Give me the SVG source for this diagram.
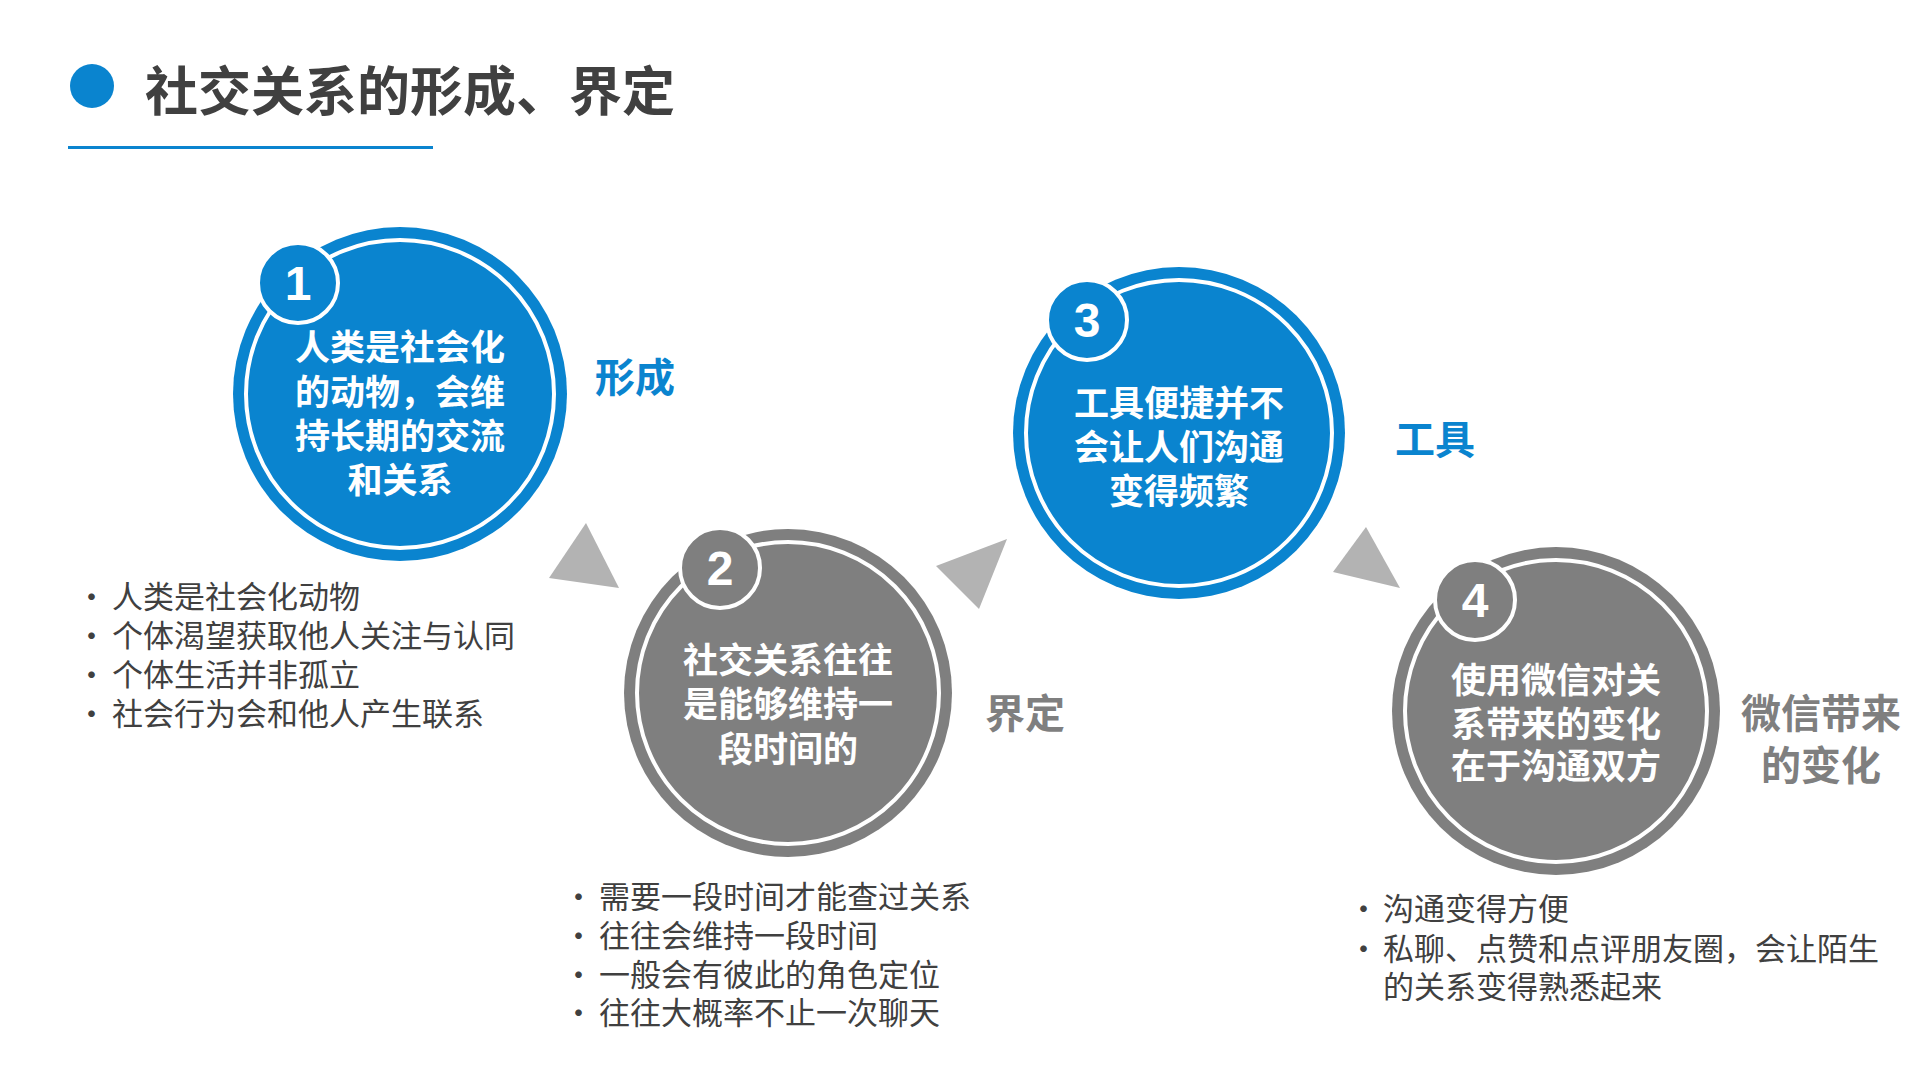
<svg xmlns="http://www.w3.org/2000/svg" width="1920" height="1080" viewBox="0 0 1920 1080">
<style>
text{font-family:"Noto Sans CJK SC","Liberation Sans",sans-serif;dominant-baseline:central}
.ct{fill:#fff;font-size:35px;font-weight:bold;text-anchor:middle}
.bn{fill:#fff;font-size:48px;font-weight:bold;text-anchor:middle;font-family:"Liberation Sans",sans-serif}
.lb{font-size:40px;font-weight:bold;text-anchor:middle}
.bl{fill:#404040;font-size:31px}
.blue{fill:#0a84cf}.gray{fill:#7f7f7f}
.tri{fill:#b3b3b3}
</style>
<rect width="1920" height="1080" fill="#fff"/>
<g id="title">
<circle cx="92" cy="86" r="22" class="blue"/>
<text x="145" y="88" font-size="53" font-weight="bold" fill="#404040">社交关系的形成、界定</text>
<rect x="68" y="146" width="365" height="3" class="blue"/>
</g>
<g id="connectors">
<polygon class="tri" points="586,523 549,578 619,588"/>
<polygon class="tri" points="1007,539 936,566 979,609"/>
<polygon class="tri" points="1366,527 1333,572 1400,588"/>
</g>
<g id="node1">
<circle cx="400" cy="394" r="167" class="blue"/>
<circle cx="400" cy="394" r="154" fill="none" stroke="#fff" stroke-width="4"/>
<circle cx="298" cy="283" r="40" class="blue" stroke="#fff" stroke-width="4"/>
<text x="298" y="283" class="bn">1</text>
<text x="400" y="344" class="ct">人类是社会化</text>
<text x="400" y="389" class="ct">的动物，会维</text>
<text x="400" y="433" class="ct">持长期的交流</text>
<text x="400" y="477" class="ct">和关系</text>
<text x="635" y="375" class="lb blue">形成</text>
</g>
<g id="node2">
<circle cx="788" cy="693" r="164" class="gray"/>
<circle cx="788" cy="693" r="151" fill="none" stroke="#fff" stroke-width="4"/>
<circle cx="720" cy="568" r="40" class="gray" stroke="#fff" stroke-width="4"/>
<text x="720" y="568" class="bn">2</text>
<text x="788" y="657" class="ct">社交关系往往</text>
<text x="788" y="701" class="ct">是能够维持一</text>
<text x="788" y="746" class="ct">段时间的</text>
<text x="1025" y="711" class="lb gray">界定</text>
</g>
<g id="node3">
<circle cx="1179" cy="433" r="166" class="blue"/>
<circle cx="1179" cy="433" r="153" fill="none" stroke="#fff" stroke-width="4"/>
<circle cx="1087" cy="320" r="40" class="blue" stroke="#fff" stroke-width="4"/>
<text x="1087" y="320" class="bn">3</text>
<text x="1179" y="400" class="ct">工具便捷并不</text>
<text x="1179" y="444" class="ct">会让人们沟通</text>
<text x="1179" y="488" class="ct">变得频繁</text>
<text x="1435" y="437" class="lb blue">工具</text>
</g>
<g id="node4">
<circle cx="1556" cy="711" r="164" class="gray"/>
<circle cx="1556" cy="711" r="151" fill="none" stroke="#fff" stroke-width="4"/>
<circle cx="1475" cy="600" r="40" class="gray" stroke="#fff" stroke-width="4"/>
<text x="1475" y="600" class="bn">4</text>
<text x="1556" y="677" class="ct">使用微信对关</text>
<text x="1556" y="721" class="ct">系带来的变化</text>
<text x="1556" y="763" class="ct">在于沟通双方</text>
<text x="1821" y="711" class="lb gray">微信带来</text>
<text x="1821" y="763" class="lb gray">的变化</text>
</g>
<g id="list1">
<text x="76" y="594" class="bl">•</text><text x="112" y="594" class="bl">人类是社会化动物</text>
<text x="76" y="633" class="bl">•</text><text x="112" y="633" class="bl">个体渴望获取他人关注与认同</text>
<text x="76" y="672" class="bl">•</text><text x="112" y="672" class="bl">个体生活并非孤立</text>
<text x="76" y="711" class="bl">•</text><text x="112" y="711" class="bl">社会行为会和他人产生联系</text>
</g>
<g id="list2">
<text x="563" y="894" class="bl">•</text><text x="599" y="894" class="bl">需要一段时间才能查过关系</text>
<text x="563" y="933" class="bl">•</text><text x="599" y="933" class="bl">往往会维持一段时间</text>
<text x="563" y="972" class="bl">•</text><text x="599" y="972" class="bl">一般会有彼此的角色定位</text>
<text x="563" y="1010" class="bl">•</text><text x="599" y="1010" class="bl">往往大概率不止一次聊天</text>
</g>
<g id="list3">
<text x="1348" y="906" class="bl">•</text><text x="1383" y="906" class="bl">沟通变得方便</text>
<text x="1348" y="946" class="bl">•</text><text x="1383" y="946" class="bl">私聊、点赞和点评朋友圈，会让陌生</text>
<text x="1383" y="984" class="bl">的关系变得熟悉起来</text>
</g>
</svg>
